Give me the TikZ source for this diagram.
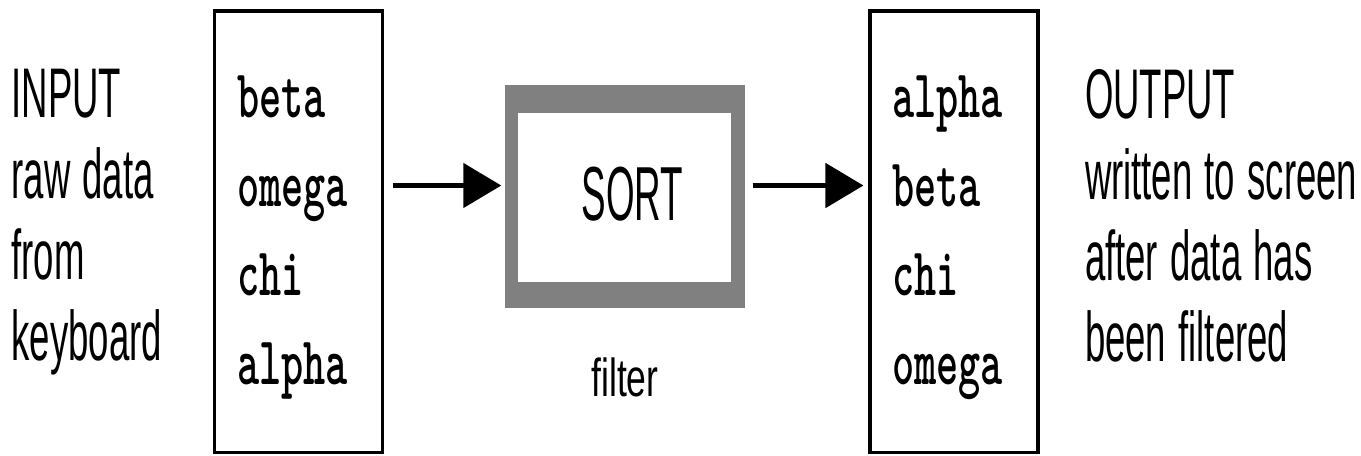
\documentclass[tikz,border=0pt]{standalone}
\usepackage{fontspec}
\setmainfont{Liberation Sans}
\usepackage{graphicx}
\usetikzlibrary{arrows.meta}

\definecolor{sortgray}{gray}{0.5}
\newcommand{\narrow}[2][0.52]{\scalebox{#1}[1]{#2}}
\newcommand{\tall}[1]{\scalebox{1}[1.62]{#1}}

\begin{document}
\begin{tikzpicture}[node distance=0.81cm,
  note/.style={font=\fontsize{20}{22}\selectfont, inner sep=0pt, text width=2.8cm, align=left, text height=0.53cm, text depth=0.15cm},
  word/.style={font=\ttfamily\bfseries\fontsize{12}{14}\selectfont, inner sep=0pt, text width=1.3cm, align=left, text height=0.42cm, text depth=0.14cm},
  listbox/.style={draw, line width=1pt, minimum width=1.68cm, minimum height=4.415cm},
  flow/.style={line width=1.4pt, -{Triangle[length=3.8mm,width=4.4mm]}}]

  \useasboundingbox (0,0) rectangle (13.61,-4.55);

  %% input side
  \node (Input) [note] at (1.516,-0.98) {\narrow{INPUT}};
  \node (Raw) [note, below of=Input] {\narrow{raw data}};
  \node (From) [note, below of=Raw] {\narrow{from}};
  \node (Keyboard) [note, below of=From] {\narrow{keyboard}};

  \node (InList) [listbox] at (2.985,-2.3175) {};
  \node (In1) [word] at (3.02,-1.03) {\tall{beta}};
  \node (In2) [word, node distance=0.893cm, below of=In1] {\tall{omega}};
  \node (In3) [word, node distance=0.893cm, below of=In2] {\tall{chi}};
  \node (In4) [word, node distance=0.893cm, below of=In3] {\tall{alpha}};

  %% the filter
  \node (Sort) [fill=sortgray, minimum width=2.4cm, minimum height=2.23cm] at (6.25,-1.965) {};
  \node (SortBox) [fill=white, minimum width=2.13cm, minimum height=1.69cm] at (6.245,-1.975) {};
  \node (SortText) [font=\fontsize{21.8}{24}\selectfont] at (6.325,-1.945) {\narrow[0.48]{SORT}};
  \node (Filter) [font=\fontsize{15.2}{17}\selectfont, node distance=1.81cm, below of=Sort] {\narrow[0.665]{filter}};

  %% output side
  \node (OutList) [listbox] at (9.5425,-2.3175) {};
  \node (Out1) [word] at (9.57,-1.03) {\tall{alpha}};
  \node (Out2) [word, node distance=0.893cm, below of=Out1] {\tall{beta}};
  \node (Out3) [word, node distance=0.893cm, below of=Out2] {\tall{chi}};
  \node (Out4) [word, node distance=0.893cm, below of=Out3] {\tall{omega}};

  \node (Output) [note] at (12.25,-0.99) {\narrow{OUTPUT}};
  \node (Written) [note, below of=Output] {\narrow{written to screen}};
  \node (After) [note, below of=Written] {\narrow{after data has}};
  \node (Been) [note, below of=After] {\narrow{been filtered}};

  %% arrows
  \coordinate (Flow) at (0,-1.855);
  \draw[flow, shorten <=0.09cm, shorten >=0.03cm] (InList.east |- Flow) -- (Sort.west |- Flow);
  \draw[flow, shorten <=0.07cm, shorten >=0.05cm] (Sort.east |- Flow) -- (OutList.west |- Flow);

\end{tikzpicture}
\end{document}
